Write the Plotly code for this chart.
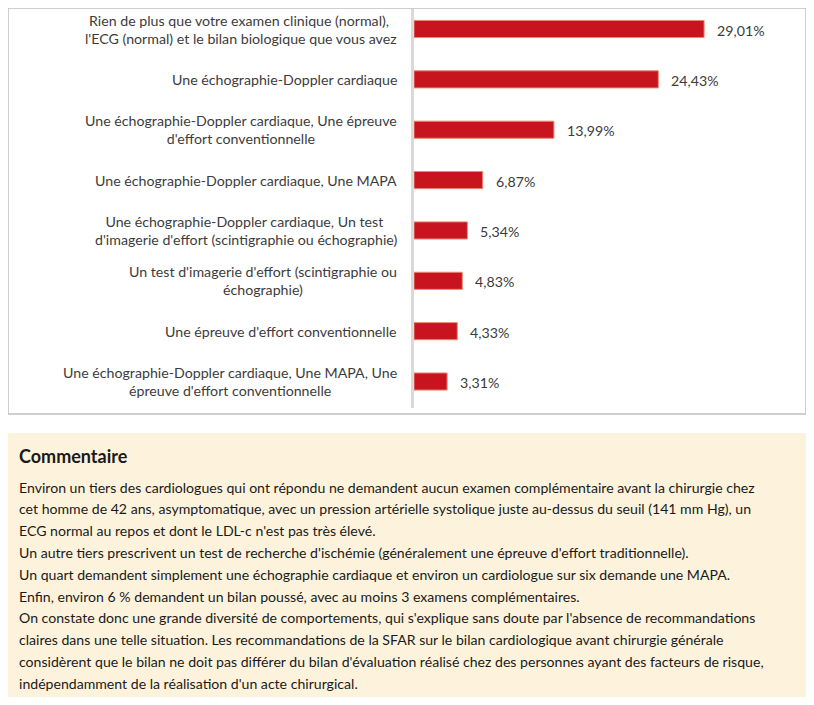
import plotly.graph_objects as go

categories = [
    "Rien de plus que votre examen clinique (normal), <br>l'ECG (normal) et le bilan biologique que vous avez",
    "Une échographie-Doppler cardiaque",
    "Une échographie-Doppler cardiaque, Une épreuve<br>d'effort conventionnelle",
    "Une échographie-Doppler cardiaque, Une MAPA",
    "Une échographie-Doppler cardiaque, Un test <br>d'imagerie d'effort (scintigraphie ou échographie)",
    "Un test d'imagerie d'effort (scintigraphie ou<br>échographie)",
    "Une épreuve d'effort conventionnelle",
    "Une échographie-Doppler cardiaque, Une MAPA, Une<br>épreuve d'effort conventionnelle",
]
values = [29.01, 24.43, 13.99, 6.87, 5.34, 4.83, 4.33, 3.31]
value_labels = ["29,01%", "24,43%", "13,99%", "6,87%", "5,34%", "4,83%", "4,33%", "3,31%"]

comment_title = "Commentaire"
comment_lines = [
    "Environ un tiers des cardiologues qui ont répondu ne demandent aucun examen complémentaire avant la chirurgie chez",
    "cet homme de 42 ans, asymptomatique, avec un pression artérielle systolique juste au-dessus du seuil (141 mm Hg), un",
    "ECG normal au repos et dont le LDL-c n'est pas très élevé.",
    "Un autre tiers prescrivent un test de recherche d'ischémie (généralement une épreuve d'effort traditionnelle).",
    "Un quart demandent simplement une échographie cardiaque et environ un cardiologue sur six demande une MAPA.",
    "Enfin, environ 6 % demandent un bilan poussé, avec au moins 3 examens complémentaires.",
    "On constate donc une grande diversité de comportements, qui s'explique sans doute par l'absence de recommandations",
    "claires dans une telle situation. Les recommandations de la SFAR sur le bilan cardiologique avant chirurgie générale",
    "considèrent que le bilan ne doit pas différer du bilan d'évaluation réalisé chez des personnes ayant des facteurs de risque,",
    "indépendamment de la réalisation d'un acte chirurgical.",
]

# the page body adds an 8px offset; figure occupies window pixels 8..814 x 8..705
OFF = 8
W, H = 814 - OFF, 705 - OFF
FONT = "Lato"
TXT = "#3c3c3c"


def px(x):
    return (x - OFF) / W


def py(y):
    return 1 - (y - OFF) / H


fig = go.Figure()
fig.add_trace(go.Bar(
    x=values, y=categories, orientation="h",
    marker=dict(color="#c8141f", line=dict(color="#ea8a72", width=1)),
    width=0.34, hoverinfo="skip",
))

annotations = []
for c, v, lab in zip(categories, values, value_labels):
    annotations.append(dict(x=v, y=c, xref="x", yref="y", text=lab, showarrow=False,
                            xanchor="left", yanchor="middle", xshift=11, yshift=-1,
                            font=dict(family=FONT, size=14.2, color=TXT)))
    annotations.append(dict(x=0, y=c, xref="x", yref="y", text=c, showarrow=False,
                            xanchor="right", yanchor="middle", xshift=-15, align="center",
                            font=dict(family=FONT, size=14.2, color=TXT)))

# commentary
annotations.append(dict(x=px(17), y=py(456), xref="paper", yref="paper", text="<b>" + comment_title + "</b>",
                        showarrow=False, xanchor="left", yanchor="middle",
                        font=dict(family=FONT, size=18, color="#1a1a1a")))
for i, line in enumerate(comment_lines):
    annotations.append(dict(x=px(17), y=py(487 + i * 21.8), xref="paper", yref="paper", text=line,
                            showarrow=False, xanchor="left", yanchor="middle",
                            font=dict(family=FONT, size=14.1, color="#1a1a1a")))

shapes = [
    dict(type="rect", xref="paper", yref="paper", x0=px(8), x1=px(806), y0=py(414), y1=py(8),
         line=dict(color="#bfbfbf", width=1.5), fillcolor="rgba(0,0,0,0)", layer="below"),
    dict(type="rect", xref="paper", yref="paper", x0=px(7), x1=px(807), y0=py(697), y1=py(433),
         line=dict(width=0), fillcolor="#fdf3dc", layer="below"),
]

top_px, bot_px = 9, 408
c0, step = 29, 50.36
r_top = (top_px - c0) / step
r_bot = (bot_px - c0) / step

fig.update_layout(
    width=W, height=H, margin=dict(l=0, r=0, t=0, b=0),
    paper_bgcolor="white", plot_bgcolor="rgba(0,0,0,0)",
    showlegend=False,
    xaxis=dict(domain=[px(414), px(805)], range=[0, (805 - 414) / 10.0], showgrid=False,
               zeroline=False, showticklabels=False, showline=False, fixedrange=True),
    yaxis=dict(domain=[py(bot_px), py(top_px)], range=[r_bot, r_top], showgrid=False,
               zeroline=False, showticklabels=False, showline=True, linecolor="#d9d9d9",
               linewidth=3, type="category", categoryorder="array", categoryarray=categories),
    annotations=annotations, shapes=shapes,
)

fig.write_html("out.html")
